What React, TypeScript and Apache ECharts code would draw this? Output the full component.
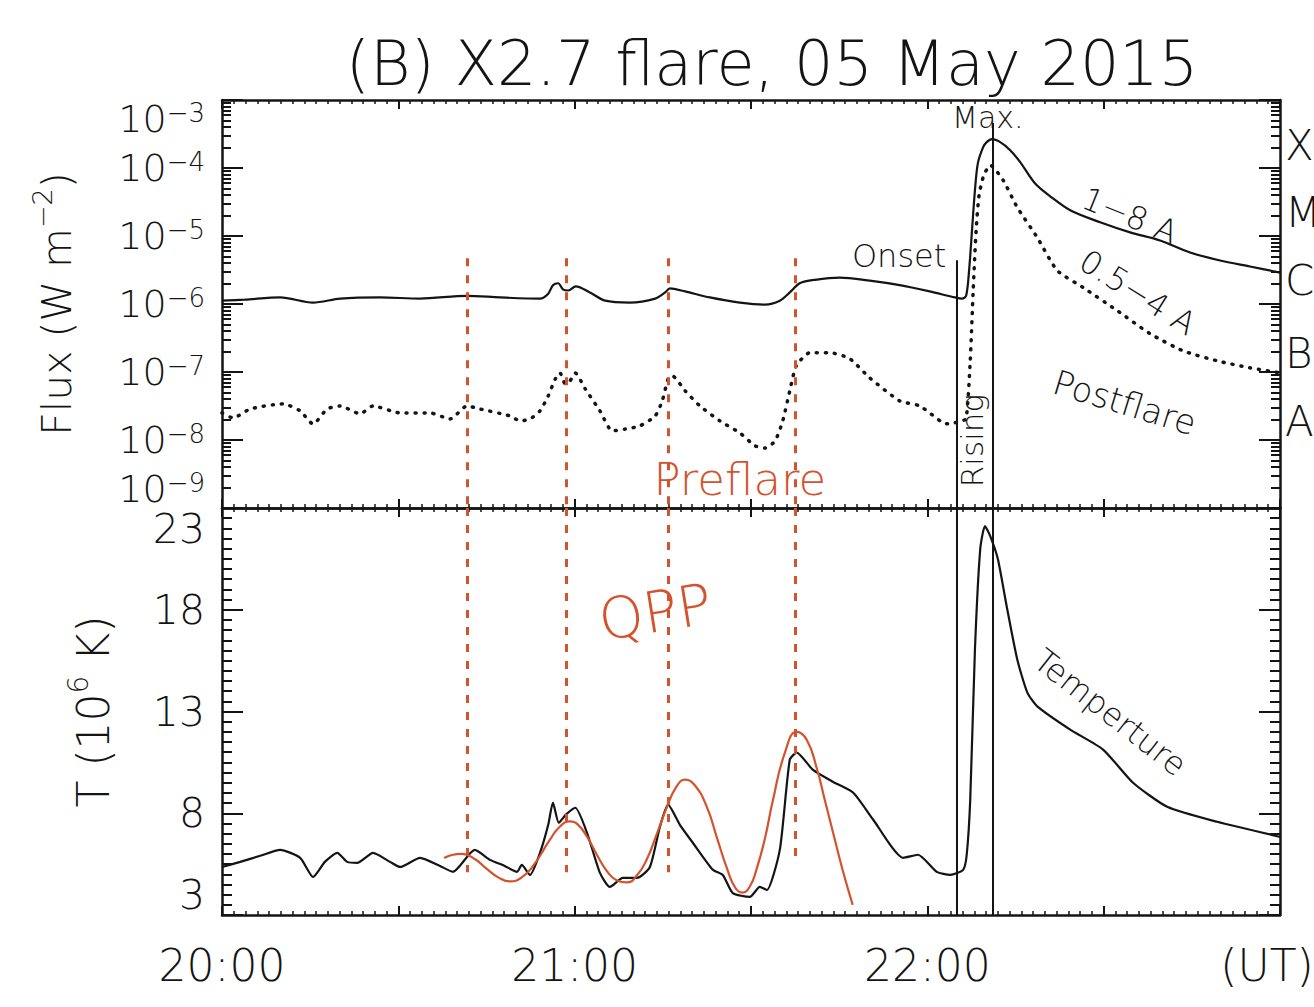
import React, { useEffect, useRef } from 'react';
import * as echarts from 'echarts';

// ---------- axis ticks ----------
const timeTicks = [0, 60, 120, 180];
const timeTickLabels = ['20:00', '21:00', '22:00', '(UT)'];
const fluxTicks = [1e-9, 1e-8, 1e-7, 1e-6, 1e-5, 1e-4, 1e-3];
const tempTicks = [3, 8, 13, 18, 23];

// ---------- GOES 1-8 A (minutes after 20:00 UT, W m^-2) ----------
const t18 = [0, 3.9, 9.9, 15.5, 20.1, 26.9, 33.7, 41.7, 47.3, 54.1, 55.5, 56.3, 57.2, 58.0, 58.9, 60.2, 62.6, 65.2, 69.4, 73.7, 75.4, 76.2, 78.8, 83.0, 88.1, 92.4, 94.9, 96.6, 98.3, 100.9, 105.1, 110.2, 115.3, 120.4, 124.7, 125.9, 126.6, 127.1, 127.6, 128.1, 128.6, 129.5, 130.1, 131.0, 132.4, 134.1, 135.8, 138.3, 140.9, 144.3, 149.4, 154.5, 159.6, 164.7, 169.8, 174.9, 180];
const flux18 = [1.12e-6, 1.16e-6, 1.25e-6, 1.05e-6, 1.2e-6, 1.25e-6, 1.2e-6, 1.32e-6, 1.25e-6, 1.2e-6, 1.42e-6, 1.89e-6, 2.02e-6, 1.64e-6, 1.58e-6, 1.82e-6, 1.48e-6, 1.12e-6, 1.05e-6, 1.2e-6, 1.48e-6, 1.7e-6, 1.53e-6, 1.25e-6, 1.05e-6, 0.98e-6, 1.12e-6, 1.48e-6, 2.02e-6, 2.27e-6, 2.44e-6, 2.2e-6, 1.89e-6, 1.53e-6, 1.25e-6, 1.2e-6, 1.32e-6, 3.1e-6, 1.21e-5, 4.71e-5, 1.18e-4, 2.03e-4, 2.4e-4, 2.66e-4, 2.4e-4, 1.83e-4, 1.22e-4, 5.97e-5, 3.84e-5, 2.39e-5, 1.59e-5, 1.13e-5, 8.61e-6, 5.73e-6, 4.36e-6, 3.56e-6, 2.9e-6];

// ---------- GOES 0.5-4 A ----------
const t054 = [0, 1.9, 4.8, 10.4, 13.3, 15.5, 17.9, 20.1, 23.5, 25.7, 30.3, 35.4, 38.8, 41.7, 43.9, 49.0, 50.7, 52.4, 54.1, 55.5, 56.7, 57.5, 58.4, 59.2, 60.1, 61.8, 64.3, 66.4, 68.6, 71.1, 73.7, 74.9, 75.9, 76.6, 78.8, 81.3, 84.7, 88.1, 90.7, 92.4, 94.1, 95.4, 96.6, 97.7, 100.0, 103.4, 106.8, 110.2, 115.3, 118.7, 122.7, 123.9, 125.6, 126.6, 127.3, 127.8, 128.3, 128.8, 129.6, 130.7, 132.9, 135.3, 138.7, 142.1, 146.5, 152.3, 157.9, 163.5, 169.3, 174.9, 180];
const flux054 = [2.5e-8, 2.11e-8, 2.86e-8, 3.4e-8, 2.68e-8, 1.72e-8, 2.86e-8, 3.17e-8, 2.42e-8, 3.17e-8, 2.5e-8, 2.5e-8, 2.04e-8, 3.17e-8, 2.86e-8, 2.26e-8, 1.91e-8, 2.04e-8, 2.68e-8, 4.46e-8, 7.9e-8, 9.7e-8, 6.7e-8, 7.4e-8, 9.7e-8, 5.65e-8, 2.68e-8, 1.36e-8, 1.45e-8, 1.61e-8, 2.26e-8, 3.76e-8, 7.9e-8, 8.8e-8, 5.28e-8, 3.17e-8, 1.91e-8, 1.27e-8, 8.2e-9, 7.6e-9, 9.7e-9, 1.91e-8, 5.28e-8, 1.23e-7, 1.92e-7, 1.92e-7, 1.57e-7, 8.2e-8, 3.76e-8, 3.17e-8, 1.78e-8, 1.72e-8, 1.91e-8, 2.04e-8, 1.46e-7, 1.58e-6, 1.21e-5, 3.97e-5, 7.8e-5, 1.1e-4, 6.6e-5, 2.64e-5, 9.5e-6, 3.11e-6, 1.75e-6, 8.0e-7, 3.66e-7, 2.05e-7, 1.46e-7, 1.15e-7, 9.7e-8];

// ---------- Temperature (10^6 K) ----------
const tTemp = [0, 3.1, 6.5, 9.9, 13.3, 15.5, 17.5, 19.6, 21.3, 23.0, 25.7, 28.6, 30.3, 33.7, 37.1, 39.3, 43.0, 45.6, 48.1, 50.2, 51.0, 52.4, 54.1, 55.5, 56.3, 57.3, 58.5, 60.1, 62.1, 64.3, 66.0, 68.2, 70.6, 72.8, 74.5, 75.9, 77.9, 80.1, 83.5, 85.2, 86.9, 89.8, 91.5, 92.7, 94.9, 96.6, 97.8, 100.5, 103.9, 107.4, 110.8, 115.9, 118.4, 121.6, 123.9, 126.1, 126.7, 127.3, 128.1, 129.0, 129.8, 130.7, 132.0, 133.5, 135.3, 137.0, 138.7, 144.3, 149.9, 155.0, 160.8, 169.3, 180];
const temp = [5.36, 5.61, 5.91, 6.2, 5.81, 4.87, 5.61, 6.05, 5.61, 5.56, 6.05, 5.61, 5.36, 5.81, 5.41, 5.12, 6.2, 5.71, 5.41, 5.12, 5.46, 4.97, 6.05, 7.43, 8.52, 7.53, 7.93, 8.27, 7.04, 5.07, 4.38, 4.82, 4.82, 5.36, 7.33, 8.42, 7.43, 6.55, 5.22, 4.97, 4.08, 3.89, 4.38, 4.23, 6.2, 10.64, 10.98, 10.14, 9.55, 9.01, 7.68, 5.81, 5.96, 5.12, 4.97, 5.22, 5.96, 8.67, 16.05, 20.98, 22.11, 21.62, 20.49, 18.17, 15.56, 13.94, 13.25, 12.11, 11.13, 9.5, 8.32, 7.58, 6.84];

// ---------- QPP fit (red) ----------
const tQpp = [37.8, 39.1, 40.8, 43.0, 45.1, 47.0, 49.0, 51.0, 52.9, 55.8, 57.5, 59.2, 60.5, 62.1, 63.8, 65.5, 67.2, 68.9, 70.6, 72.3, 74.0, 75.7, 77.2, 78.8, 80.5, 82.5, 84.2, 85.9, 87.3, 88.5, 89.8, 91.0, 92.4, 93.7, 95.8, 97.8, 99.5, 101.2, 102.6, 104.0, 105.6, 107.3];
const qpp = [5.8, 5.95, 6.0, 5.75, 5.25, 4.85, 4.65, 4.85, 5.4, 6.7, 7.35, 7.6, 7.45, 6.85, 5.95, 5.15, 4.7, 4.6, 4.95, 5.75, 7.0, 8.3, 9.25, 9.65, 9.35, 8.3, 6.8, 5.3, 4.35, 4.1, 4.4, 5.3, 6.8, 8.6, 11.0, 12.0, 11.6, 10.2, 8.6, 7.0, 5.2, 3.5];

// ---------- vertical markers ----------
const qppPeakTimes = [41.8, 58.5, 76.0, 97.6];
const qppLineTopFlux = 4.7e-6;
const qppLineBottomTemp = [5.1, 5.1, 5.1, 5.85];
const onsetTime = 125.0;
const onsetTopFlux = 4.4e-6;
const maxTime = 131.2;
const maxTopFlux = 4.6e-4;

// ---------- GOES class labels ----------
const classNames = ['X', 'M', 'C', 'B', 'A'];
const classFlux = [2.17e-4, 2.2e-5, 2.2e-6, 1.87e-7, 1.9e-8];

const INK = '#141414';
const RED = '#d4522d';
const FONT = '"DejaVu Sans", sans-serif';
const WEIGHT = 200;

const fluxMinorTicks: number[] = [];
for (let k = -9; k < -3; k++) for (let n = 2; n <= 9; n++) fluxMinorTicks.push(n * Math.pow(10, k));
const tempMinorTicks: number[] = [];
for (let v = 3; v <= 23.001; v += 0.5) tempMinorTicks.push(Math.round(v * 10) / 10);

const zip = (a: number[], b: number[]) => a.map((x, i) => [x, b[i]]);

function timeAxis(gridIndex: number, position: 'top' | 'bottom', labels: boolean) {
  return {
    type: 'value', gridIndex, position, min: 0, max: 180, interval: 30,
    axisLine: { show: true, onZero: false, lineStyle: { color: INK, width: 2.5 } },
    axisTick: { show: true, inside: true, length: 9, lineStyle: { color: INK, width: 2 } },
    minorTick: { show: true, splitNumber: 15, length: 4, lineStyle: { color: INK, width: 1.5 } },
    splitLine: { show: false }, minorSplitLine: { show: false },
    axisLabel: labels
      ? {
          show: true, customValues: timeTicks, showMinLabel: true, showMaxLabel: true, hideOverlap: false,
          formatter: (v: number) => {
            const i = timeTicks.indexOf(v);
            if (i < 0) return '';
            return i === timeTicks.length - 1 ? `{u|${timeTickLabels[i]}}` : timeTickLabels[i];
          },
          rich: { u: { fontSize: 44, fontFamily: FONT, fontWeight: WEIGHT, color: INK, padding: [0, 26, 0, 0] } },
          fontSize: 44, fontFamily: FONT, fontWeight: WEIGHT, color: INK, margin: 28,
        }
      : { show: false },
  };
}

function fluxAxis(position: 'left' | 'right', major: boolean, labels: boolean) {
  const ax: any = {
    type: 'log', logBase: 10, gridIndex: 0, position, min: 1e-9, max: 1e-3,
    axisLine: { show: major, onZero: false, lineStyle: { color: INK, width: 2.5 } },
    axisTick: { show: true, inside: true, length: major ? 21 : 9, customValues: major ? fluxTicks : fluxMinorTicks, lineStyle: { color: INK, width: 2 } },
    splitLine: { show: false },
    axisLabel: { show: false },
  };
  if (labels) {
    ax.axisLabel = {
      show: true, customValues: fluxTicks, margin: 17, showMinLabel: true, showMaxLabel: true, hideOverlap: false,
      verticalAlignMaxLabel: 'top', verticalAlignMinLabel: 'bottom',
      formatter: (v: number) => `{b|10}{s|−${-Math.round(Math.log10(v))}}`,
      rich: {
        b: { fontSize: 38, fontFamily: FONT, fontWeight: WEIGHT, color: INK, lineHeight: 38 },
        s: { fontSize: 26, fontFamily: FONT, fontWeight: WEIGHT, color: INK, lineHeight: 14, verticalAlign: 'top' },
      },
    };
    ax.name = 'Flux (W m{s|−2})';
    ax.nameLocation = 'middle';
    ax.nameRotate = 90;
    ax.nameGap = 137;
    ax.nameTextStyle = {
      fontSize: 41, fontFamily: FONT, fontWeight: WEIGHT, color: INK, lineHeight: 56,
      rich: { s: { fontSize: 27, fontFamily: FONT, fontWeight: WEIGHT, color: INK, lineHeight: 27, verticalAlign: 'top' } },
    };
  }
  return ax;
}

function tempAxis(position: 'left' | 'right', major: boolean, labels: boolean) {
  const ax: any = {
    type: 'value', gridIndex: 1, position, min: 3, max: 23,
    axisLine: { show: major, onZero: false, lineStyle: { color: INK, width: 2.5 } },
    axisTick: { show: true, inside: true, length: major ? 21 : 10, customValues: major ? tempTicks : tempMinorTicks, lineStyle: { color: INK, width: 2 } },
    splitLine: { show: false },
    axisLabel: { show: false },
  };
  if (labels) {
    ax.axisLabel = {
      show: true, customValues: tempTicks, margin: 17, fontSize: 41, fontFamily: FONT, fontWeight: WEIGHT, color: INK,
      showMinLabel: true, showMaxLabel: true, hideOverlap: false,
      verticalAlignMaxLabel: 'top', verticalAlignMinLabel: 'bottom',
    };
    ax.name = 'T (10{s|6} K)';
    ax.nameLocation = 'middle';
    ax.nameRotate = 90;
    ax.nameGap = 100;
    ax.nameTextStyle = {
      fontSize: 44, fontFamily: FONT, fontWeight: WEIGHT, color: INK, lineHeight: 58,
      rich: { s: { fontSize: 28, fontFamily: FONT, fontWeight: WEIGHT, color: INK, lineHeight: 28, verticalAlign: 'top' } },
    };
  }
  return ax;
}

const blackV = { color: INK, width: 2, type: 'solid' };
const redV = { color: RED, width: 3, type: [8, 9] };

const topMarks = [
  ...qppPeakTimes.map((t) => [{ coord: [t, qppLineTopFlux], lineStyle: redV }, { coord: [t, 1e-9] }]),
  [{ coord: [onsetTime, onsetTopFlux], lineStyle: blackV }, { coord: [onsetTime, 1e-9] }],
  [{ coord: [maxTime, maxTopFlux], lineStyle: blackV }, { coord: [maxTime, 1e-9] }],
];
const bottomMarks = [
  ...qppPeakTimes.map((t, i) => [{ coord: [t, 23], lineStyle: redV }, { coord: [t, qppLineBottomTemp[i]] }]),
  [{ coord: [onsetTime, 23], lineStyle: blackV }, { coord: [onsetTime, 3] }],
  [{ coord: [maxTime, 23], lineStyle: blackV }, { coord: [maxTime, 3] }],
];

const option: any = {
  animation: false,
  backgroundColor: '#ffffff',
  grid: [
    { left: 222, top: 100, width: 1058, height: 408, containLabel: false, outerBoundsMode: 'none' },
    { left: 222, top: 508, width: 1058, height: 407, containLabel: false, outerBoundsMode: 'none' },
  ],
  xAxis: [timeAxis(0, 'bottom', false), timeAxis(0, 'top', false), timeAxis(1, 'bottom', true), timeAxis(1, 'top', false)],
  yAxis: [
    fluxAxis('left', true, true), fluxAxis('left', false, false), fluxAxis('right', true, false), fluxAxis('right', false, false),
    tempAxis('left', true, true), tempAxis('left', false, false), tempAxis('right', true, false), tempAxis('right', false, false),
  ],
  series: [
    {
      name: '1-8 A', type: 'line', xAxisIndex: 0, yAxisIndex: 0, data: zip(t18, flux18), showSymbol: false, smooth: 0.3,
      lineStyle: { color: INK, width: 2.2 }, silent: true, z: 3,
      markLine: { silent: true, symbol: ['none', 'none'], label: { show: false }, data: topMarks },
    },
    {
      name: '0.5-4 A', type: 'line', xAxisIndex: 0, yAxisIndex: 0, data: zip(t054, flux054), showSymbol: false, smooth: 0.2,
      lineStyle: { color: INK, width: 3.5, type: [1, 8], cap: 'round' }, silent: true, z: 3,
    },
    {
      name: 'Temperature', type: 'line', xAxisIndex: 2, yAxisIndex: 4, data: zip(tTemp, temp), showSymbol: false, smooth: 0.2,
      lineStyle: { color: INK, width: 2.2 }, silent: true, z: 3,
      markLine: { silent: true, symbol: ['none', 'none'], label: { show: false }, data: bottomMarks },
    },
    {
      name: 'QPP', type: 'line', xAxisIndex: 2, yAxisIndex: 4, data: zip(tQpp, qpp), showSymbol: false, smooth: 0.5,
      lineStyle: { color: RED, width: 2.2 }, silent: true, z: 4,
    },
  ],
};

type Note = { text: string; panel: 0 | 1; t: number; v: number; rot?: number; size: number; color?: string; dx?: number; align?: string };
const notes: Note[] = [
  { text: 'Max.', panel: 0, t: 130.3, v: 5.6e-4, size: 30 },
  { text: 'Onset', panel: 0, t: 115.2, v: 5.1e-6, size: 32 },
  { text: 'Rising', panel: 0, t: 127.6, v: 9.8e-9, size: 31, rot: 90 },
  { text: '1−8 A', panel: 0, t: 154.5, v: 2.0e-5, size: 32, rot: -22 },
  { text: '0.5−4 A', panel: 0, t: 155.8, v: 1.48e-6, size: 32, rot: -32 },
  { text: 'Postflare', panel: 0, t: 153.6, v: 3.55e-8, size: 34, rot: -17 },
  { text: 'Preflare', panel: 0, t: 88.1, v: 2.6e-9, size: 45, color: RED },
  { text: 'QPP', panel: 1, t: 73.7, v: 17.9, size: 57, rot: 9, color: RED },
  { text: 'Temperture', panel: 1, t: 151.1, v: 12.95, size: 32, rot: -38 },
  ...classNames.map((c, i) => ({ text: c, panel: 0 as 0, t: 180, v: classFlux[i], size: 42, dx: 5, align: 'left' })),
];

export default function App() {
  const ref = useRef<HTMLDivElement>(null);
  useEffect(() => {
    if (!ref.current) return;
    const chart = echarts.init(ref.current, null, { renderer: 'svg' });
    chart.setOption(option);
    const gfx: any[] = notes.map((n) => {
      const p = chart.convertToPixel(
        { xAxisIndex: n.panel === 0 ? 0 : 2, yAxisIndex: n.panel === 0 ? 0 : 4 } as any,
        [n.t, n.v]
      ) as number[];
      return {
        type: 'text', x: p[0] + (n.dx || 0), y: p[1], rotation: ((n.rot || 0) * Math.PI) / 180, z: 10, silent: true,
        style: { text: n.text, fontSize: n.size, fontFamily: FONT, fontWeight: WEIGHT, fill: n.color || INK, align: n.align || 'center', verticalAlign: 'middle' },
      };
    });
    gfx.push({
      type: 'text', x: 772, y: 63, z: 10, silent: true,
      style: { text: '(B) X2.7 flare, 05 May 2015', fontSize: 62, fontFamily: FONT, fontWeight: WEIGHT, fill: INK, align: 'center', verticalAlign: 'middle' },
    });
    chart.setOption({ graphic: gfx });
    return () => chart.dispose();
  }, []);
  return <div ref={ref} style={{ position: 'fixed', left: 0, top: 0, width: 1314, height: 1007, background: '#fff' }} />;
}
